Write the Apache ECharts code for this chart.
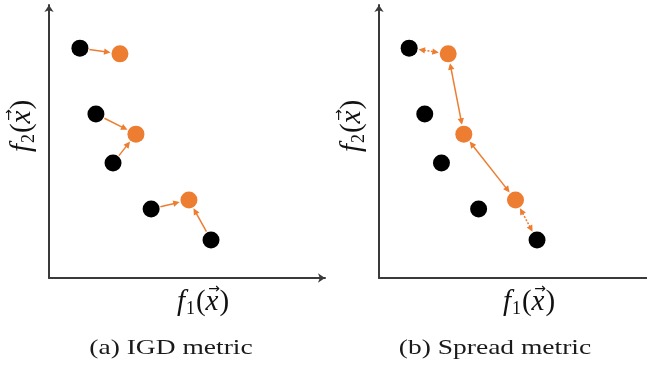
<!DOCTYPE html>
<html>
<head>
<meta charset="utf-8">
<title>IGD and Spread metrics</title>
<script src="https://cdn.jsdelivr.net/npm/echarts@6/dist/echarts.min.js"></script>
<style>
  html, body { margin: 0; padding: 0; background: #ffffff; }
  #chart { width: 647px; height: 367px; }
</style>
</head>
<body>
<div id="chart"></div>
<script>
// Reference (true Pareto front) points in objective space (f1, f2)
const paretoF1 = [1.12, 1.70, 2.32, 3.70, 5.87];
const paretoF2 = [8.42, 6.01, 4.21, 2.53, 1.39];
// Obtained solutions
const solutionF1 = [2.57, 3.15, 5.07];
const solutionF2 = [8.21, 5.27, 2.86];
// IGD: each reference point to its nearest obtained solution
const igdLinks = [[0, 0], [1, 1], [2, 1], [3, 2], [4, 2]];
// Spread: extreme distances (dotted) and consecutive distances (solid)
const spreadLinks = [
  ['p', 0, 's', 0, 'dotted'],
  ['s', 0, 's', 1, 'solid'],
  ['s', 1, 's', 2, 'solid'],
  ['s', 2, 'p', 4, 'dotted']
];
const captions = ['(a) IGD metric', '(b) Spread metric'];
const xAxisName = ['f', '1'];
const yAxisName = ['f', '2'];

const ORANGE = '#ED7D31';
const BLACK = '#000000';
const AXIS = '#3a3a3a';
const DOT = 17;

function pt(kind, i) {
  return kind === 'p' ? [paretoF1[i], paretoF2[i]] : [solutionF1[i], solutionF2[i]];
}

const paretoData = paretoF1.map((x, i) => [x, paretoF2[i]]);
const solutionData = solutionF1.map((x, i) => [x, solutionF2[i]]);
// [x1, y1, x2, y2, heads, dotted]
const igdData = igdLinks.map(([p, s]) => [...pt('p', p), ...pt('s', s), 1, 0]);
const spreadData = spreadLinks.map(([k1, i1, k2, i2, st]) => [...pt(k1, i1), ...pt(k2, i2), 2, st === 'dotted' ? 1 : 0]);

function renderLink(params, api) {
  const a = api.coord([api.value(0), api.value(1)]);
  const b = api.coord([api.value(2), api.value(3)]);
  const both = api.value(4) === 2;
  const dotted = api.value(5) === 1;
  const dx = b[0] - a[0], dy = b[1] - a[1];
  const L = Math.hypot(dx, dy);
  const u = [dx / L, dy / L];
  const gap = DOT / 2 + 1;
  const hl = 6.5, hw = 3.2;
  const s = [a[0] + u[0] * gap, a[1] + u[1] * gap];
  const e = [b[0] - u[0] * gap, b[1] - u[1] * gap];
  const head = (tip, d) => {
    const bx = tip[0] - d[0] * hl, by = tip[1] - d[1] * hl;
    return {
      type: 'polygon',
      shape: { points: [tip, [bx - d[1] * hw, by + d[0] * hw], [bx + d[1] * hw, by - d[0] * hw]] },
      style: { fill: ORANGE }
    };
  };
  const ls = both ? [s[0] + u[0] * (hl - 1), s[1] + u[1] * (hl - 1)] : s;
  const le = [e[0] - u[0] * (hl - 1), e[1] - u[1] * (hl - 1)];
  const children = [{
    type: 'line',
    shape: { x1: ls[0], y1: ls[1], x2: le[0], y2: le[1] },
    style: { stroke: ORANGE, lineWidth: 1.5, lineDash: dotted ? [2, 1.5] : null }
  }, head(e, u)];
  if (both) children.push(head(s, [-u[0], -u[1]]));
  return { type: 'group', children };
}

// Math-style axis names: italic f, subscript, (x with vector arrow)
const measureCtx = document.createElement('canvas').getContext('2d');
function textWidth(font, t) { measureCtx.font = font; return measureCtx.measureText(t).width; }
const MATH = '"Liberation Serif", "DejaVu Serif", serif';
function mathLabel(parts, x, y, rotation) {
  const pieces = [
    { t: parts[0], font: 'italic 29px ' + MATH, dy: 0, pad: 1 },
    { t: parts[1], font: '18px ' + MATH, dy: 7, pad: 1 },
    { t: '(', font: '29px ' + MATH, dy: 0, pad: 0 },
    { t: 'x', font: 'italic 29px ' + MATH, dy: 0, pad: 1, vec: true },
    { t: ')', font: '29px ' + MATH, dy: 0, pad: 0 }
  ];
  let total = 0;
  pieces.forEach(p => { p.w = textWidth(p.font, p.t); total += p.w + p.pad; });
  let cx = -total / 2;
  const children = [];
  pieces.forEach(p => {
    children.push({
      type: 'text', x: cx, y: p.dy,
      style: { text: p.t, font: p.font, fill: '#111', align: 'left', verticalAlign: 'middle' }
    });
    if (p.vec) {
      children.push({
        type: 'text', x: cx + p.w / 2 + 2, y: -13,
        style: { text: '\u2192', font: '14px "DejaVu Sans", sans-serif', fill: '#111', align: 'center', verticalAlign: 'middle' }
      });
    }
    cx += p.w + p.pad;
  });
  return { type: 'group', x, y, rotation: rotation || 0, children };
}

function axisLine(withArrow) {
  return {
    show: true,
    symbol: withArrow ? ['none', 'arrow'] : 'none',
    symbolSize: [7, 7],
    lineStyle: { color: AXIS, width: 2 }
  };
}
function valueAxis(gridIndex, max, arrow) {
  return {
    type: 'value', gridIndex, min: 0, max,
    axisLine: axisLine(arrow),
    axisTick: { show: false },
    axisLabel: { show: false },
    splitLine: { show: false }
  };
}

const chart = echarts.init(document.getElementById('chart'), null, { renderer: 'canvas' });
chart.setOption({
  backgroundColor: '#ffffff',
  animation: false,
  grid: [
    { left: 49, top: 5, width: 276, height: 273, outerBoundsMode: 'none' },
    { left: 379, top: 5, width: 280, height: 273, outerBoundsMode: 'none' }
  ],
  xAxis: [valueAxis(0, 10, true), valueAxis(1, 10.4, true)],
  yAxis: [valueAxis(0, 10, true), valueAxis(1, 10, true)],
  series: [
    { type: 'custom', xAxisIndex: 0, yAxisIndex: 0, renderItem: renderLink, data: igdData, z: 1 },
    { type: 'custom', xAxisIndex: 1, yAxisIndex: 1, renderItem: renderLink, data: spreadData, z: 1 },
    { type: 'scatter', xAxisIndex: 0, yAxisIndex: 0, data: paretoData, symbolSize: DOT, itemStyle: { color: BLACK, opacity: 1 }, z: 2 },
    { type: 'scatter', xAxisIndex: 0, yAxisIndex: 0, data: solutionData, symbolSize: DOT, itemStyle: { color: ORANGE, opacity: 1 }, z: 2 },
    { type: 'scatter', xAxisIndex: 1, yAxisIndex: 1, data: paretoData, symbolSize: DOT, itemStyle: { color: BLACK, opacity: 1 }, z: 2 },
    { type: 'scatter', xAxisIndex: 1, yAxisIndex: 1, data: solutionData, symbolSize: DOT, itemStyle: { color: ORANGE, opacity: 1 }, z: 2 }
  ],
  graphic: [
    mathLabel(xAxisName, 203, 302),
    mathLabel(xAxisName, 529, 302),
    mathLabel(yAxisName, 22, 126, Math.PI / 2),
    mathLabel(yAxisName, 352, 126, Math.PI / 2),
    {
      type: 'text', x: 171, y: 348, scaleX: 1.25,
      style: { text: captions[0], font: '22px "Liberation Serif", serif', fill: '#1a1a1a', align: 'center', verticalAlign: 'middle' }
    },
    {
      type: 'text', x: 495, y: 348, scaleX: 1.25,
      style: { text: captions[1], font: '22px "Liberation Serif", serif', fill: '#1a1a1a', align: 'center', verticalAlign: 'middle' }
    }
  ]
});
</script>
</body>
</html>
